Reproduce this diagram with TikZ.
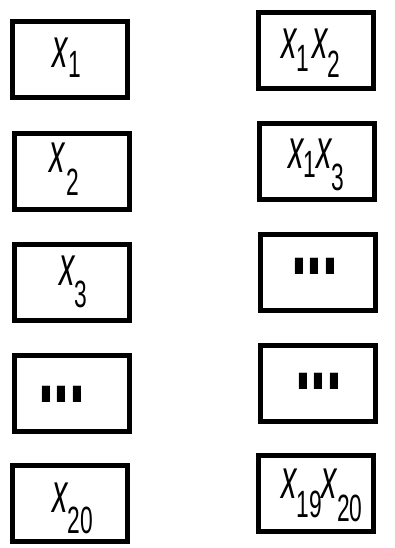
\documentclass[tikz,border=0pt]{standalone}
\usepackage{fontspec}
\setmainfont{Liberation Sans}
\usepackage{graphicx}
\newcommand{\xv}{\scalebox{0.55}[1]{\fontsize{56}{56}\selectfont\itshape x}}
\newcommand{\sbs}[2]{\raisebox{-#2pt}{\scalebox{0.6}[1]{\fontsize{38}{38}\selectfont #1}}}
\newcommand{\dotsbox}{\scalebox{1}[1.9]{\fontsize{57.5}{60}\selectfont\bfseries ...}}
\begin{document}
\begin{tikzpicture}[x=1pt,y=-1pt,
  box/.style={draw=black,line width=5pt,minimum width=115pt,minimum height=76pt,inner sep=0pt,fill=white},
  lab/.style={inner sep=0pt,outer sep=0pt,anchor=base west}]
\useasboundingbox[fill=white] (0,0) rectangle (395,548);
% left column
\node[box] (l1) at (70,59.5) {};
\node[box] (l2) at (72,171.5) {};
\node[box] (l3) at (72,282) {};
\node[box] (l4) at (72,393) {};
\node[box] (l5) at (70,503) {};
% right column
\node[box] (r1) at (315.5,50.5) {};
\node[box] (r2) at (317,161.5) {};
\node[box] (r3) at (317.5,272) {};
\node[box] (r4) at (317.5,383) {};
\node[box] (r5) at (315.5,493.5) {};
% labels
\node[lab] (t1) at (52,68) {\xv\hspace{1pt}\sbs{1}{10}};
\node[lab] (t2) at (49,172) {\xv\hspace{2pt}\sbs{2}{23}};
\node[lab] (t3) at (59,285) {\xv\sbs{3}{22}};
\node[lab] (t4) at (38,402) {\dotsbox};
\node[lab] (t5) at (52,512) {\xv\sbs{20}{21}};
\node[lab] (u1) at (281,59) {\xv\sbs{1}{13}\hspace{3pt}\xv\sbs{2}{19}};
\node[lab] (u2) at (288,168) {\xv\sbs{1}{9}\xv\sbs{3}{22}};
\node[lab] (u3) at (291,274) {\dotsbox};
\node[lab] (u4) at (295,389) {\dotsbox};
\node[lab] (u5) at (281,498) {\xv\sbs{19}{19}\xv\sbs{20}{23}};
\end{tikzpicture}
\end{document}
